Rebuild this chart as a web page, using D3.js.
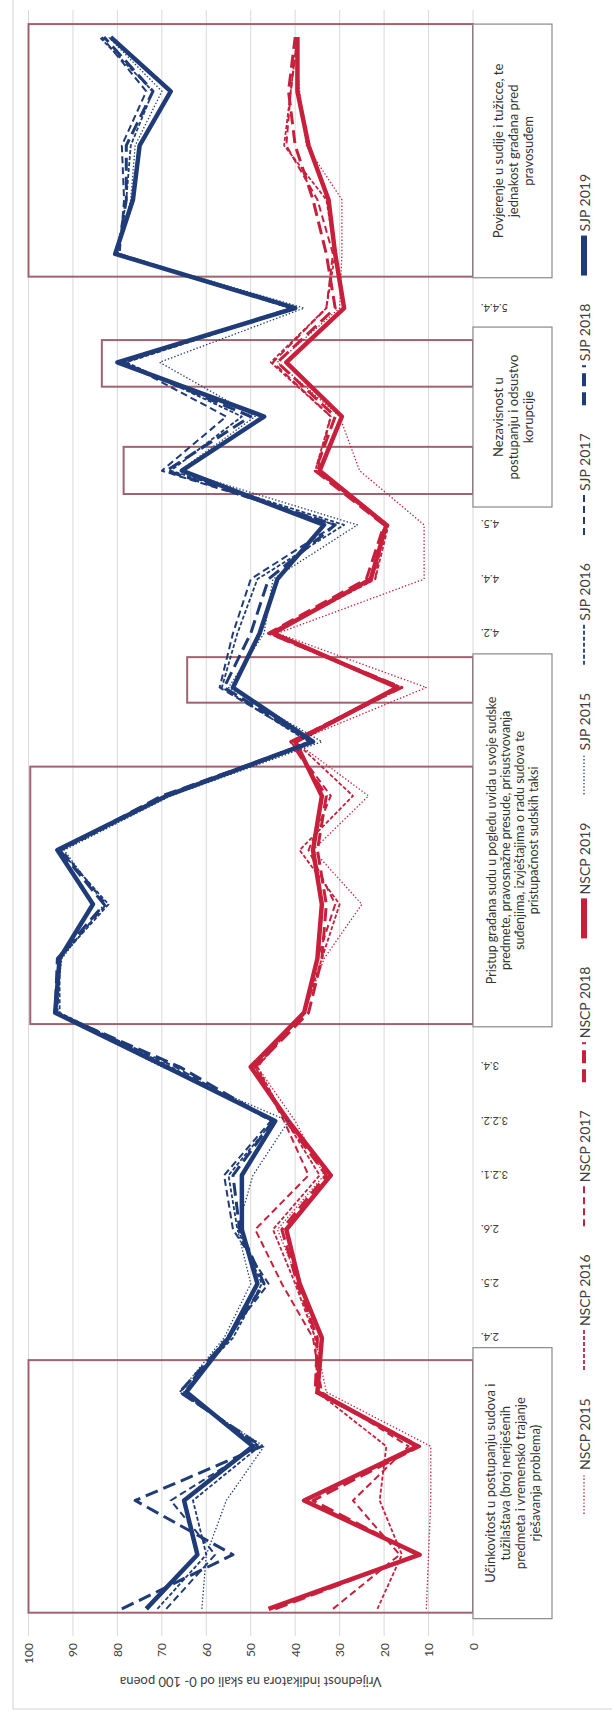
<!DOCTYPE html>
<html><head><meta charset="utf-8">
<script src="https://cdn.jsdelivr.net/npm/d3@7"></script>
<style>body{margin:0;background:#fff}svg{display:block}</style>
</head><body>
<script>
// ---- data (category order = original left-to-right; chart is rotated 90° CCW) ----
const categories = ["", "", "", "", "", "2.4.", "2.5.", "2.6.", "3.2.1.", "3.2.2.", "3.4.",
  "", "", "", "", "", "", "", "4.2.", "4.4.", "4.5.", "", "", "", "5.4.4.", "", "", "", "", ""];
const nscp2015 = [10.5, 10, 9.5, 9.5, 33, 35.5, 39, 44, 33.5, 40, 48.5, 38, 33.5, 25, 36, 23.5, 40, 10.5, 44, 11, 11, 25.5, 30, 44, 30, 29.5, 29.5, 37.5, 39, 40];
const nscp2016 = [21.5, 16, 21, 19.5, 35, 35.5, 40, 45, 34.5, 42, 48.5, 38, 34, 30, 39, 27, 40, 16, 45, 22, 19, 35.5, 32, 45.5, 33, 31, 33, 42.5, 41, 39.5];
const nscp2017 = [31.5, 16.5, 27, 14.5, 34, 36, 43, 49, 37, 42.5, 49, 38, 35, 31, 37, 32, 41, 17, 46, 22, 20, 35, 32, 45, 33, 31.5, 35, 42, 41, 39.5];
const nscp2018 = [44.5, 12.5, 36, 12, 35.5, 35, 39.5, 43, 33, 42, 49, 37, 34, 33, 35, 33, 41, 16, 46, 24, 20, 35.5, 31, 44, 31, 33, 36, 40, 41.5, 40];
const nscp2019 = [46, 12, 38, 12.5, 35, 34, 39, 42, 32, 41.5, 50, 38, 35, 34, 36, 34, 40, 17, 45, 23, 19.5, 34.5, 29.5, 42, 29, 31, 32.5, 37, 39.5, 39.5];
const sjp2015 = [61, 60, 55.5, 47, 66, 56, 50, 53, 49.5, 41.5, 70, 94, 92.5, 83, 92, 68, 34, 55, 47, 45, 26, 66, 49, 70.5, 38, 80, 77, 76, 70, 82];
const sjp2016 = [71, 60, 63, 48, 66, 54, 47.5, 53, 55, 45, 68, 93, 93, 82, 93, 69, 37, 56.5, 53, 48.5, 29, 68, 52, 78, 40, 80, 78, 77, 72, 84];
const sjp2017 = [69, 58, 68, 48.5, 65, 55.5, 46, 54, 56, 45.5, 67, 93.5, 93, 82.5, 92.5, 68.5, 36.5, 57, 54, 50, 31, 70, 55.5, 78.5, 41, 79.5, 78.5, 79, 73.5, 83.5];
const sjp2018 = [79, 54, 76, 47.5, 66, 55, 47, 52.5, 54, 45, 66, 94, 93.5, 83, 93, 70, 36, 56, 50, 46, 31, 69, 50, 79, 40.5, 80, 78, 78, 72, 83];
const sjp2019 = [73.5, 62, 65, 49.5, 64.5, 55, 48.5, 52, 52, 44.5, 69, 94, 93, 85.5, 93.5, 69, 36, 54, 48, 44, 33.5, 65.5, 47, 80, 40, 80.5, 76.5, 75, 68, 81.5];
const seriesNames = ["NSCP 2015", "NSCP 2016", "NSCP 2017", "NSCP 2018", "NSCP 2019", "SJP 2015", "SJP 2016", "SJP 2017", "SJP 2018", "SJP 2019"];
const valueTicks = [0, 10, 20, 30, 40, 50, 60, 70, 80, 90, 100];
const axisTitle = "Vrijednost indikatora na skali od 0- 100 poena";
// group frames (in category units) and their heights (value units)
const frameFrom = [-0.07, 10.79, 16.72, 20.57, 22.55, 24.58];
const frameTo   = [4.59, 15.54, 17.56, 21.44, 23.41, 29.24];
const frameTop  = [100, 99.6, 64.3, 78.6, 83.5, 100];
// group text boxes
const boxFrom = [-0.18, 10.74, 20.33, 24.56];
const boxTo   = [4.82, 17.62, 23.65, 29.24];
const boxLines = [
  ["Učinkovitost u postupanju sudova i", "tužilaštava (broj neriješenih", "predmeta i vremensko trajanje", "rješavanja problema)"],
  ["Pristup građana sudu u pogledu uvida u svoje sudske", "predmete, pravosnažne presude, prisustvovanja", "suđenjima, izvještajima o radu sudova te", "pristupačnost sudskih taksi"],
  ["Nezavisnost u", "postupanju i odsustvo", "korupcije"],
  ["Povjerenje u sudije i tužicce, te", "jednakost građana pred", "pravosuđem"]
];

// ---- layout ----
const W = 612, H = 1724;
const RED = "#c8203c", NAVY = "#1f3c78";
const styles = [
  {w: 1.3, d: "1.4,2"}, {w: 1.8, d: "4,2"}, {w: 2, d: "7,4"}, {w: 3, d: "13,6"}, {w: 4.5, d: null}
];
const seriesData = [nscp2015, nscp2016, nscp2017, nscp2018, nscp2019, sjp2015, sjp2016, sjp2017, sjp2018, sjp2019];
const FONT = "Lato, 'Open Sans', sans-serif";

const svg = d3.select("body").append("svg").attr("width", W).attr("height", H);
svg.append("rect").attr("width", W).attr("height", H).attr("fill", "#fff");
// original (unrotated) chart frame: x along 0..H, y along 0..W
const g = svg.append("g").attr("transform", `translate(0,${H}) rotate(-90)`).style("font-family", FONT);

const x = d3.scalePoint().domain(d3.range(categories.length)).range([88, 1714]).padding(0.5);
const step = x.step();
const xc = v => x(0) + step * v; // continuous category position
const y = d3.scaleLinear().domain([0, 100]).range([473, 28.5]);
const boxTopY = 473, boxH = 79;

// outer chart border
g.append("rect").attr("x", 15).attr("y", 13).attr("width", H).attr("height", W)
  .attr("fill", "none").attr("stroke", "#d9d9d9").attr("stroke-width", 1.2);

// gridlines
g.append("g").selectAll("line").data(valueTicks).join("line")
  .attr("x1", 88).attr("x2", 1714).attr("y1", d => y(d)).attr("y2", d => y(d))
  .attr("stroke", "#d9d9d9").attr("stroke-width", 1);

// value tick labels
g.append("g").selectAll("text").data(valueTicks).join("text")
  .attr("x", 81).attr("y", d => y(d)).attr("text-anchor", "end").attr("dominant-baseline", "central")
  .attr("font-size", 12).attr("fill", "#404040").text(d => d);

// axis title
g.append("text").attr("transform", `translate(42,${(y(0) + y(100)) / 2}) rotate(-90)`)
  .attr("text-anchor", "middle").attr("dominant-baseline", "central")
  .attr("font-size", 13).attr("fill", "#404040").text(axisTitle);

// category labels
g.append("g").selectAll("text").data(categories.map((c, i) => ({c, i})).filter(d => d.c)).join("text")
  .attr("transform", d => `translate(${x(d.i)},481) rotate(-90)`)
  .attr("text-anchor", "end").attr("dominant-baseline", "central")
  .attr("font-size", 11).attr("fill", "#404040").text(d => d.c);

// group frames
g.append("g").selectAll("rect").data(frameFrom.map((f, i) => i)).join("rect")
  .attr("x", i => xc(frameFrom[i])).attr("width", i => xc(frameTo[i]) - xc(frameFrom[i]))
  .attr("y", i => y(frameTop[i])).attr("height", i => y(0) - y(frameTop[i]))
  .attr("fill", "none").attr("stroke", "#95535f").attr("stroke-width", 2).attr("stroke-opacity", 0.9);

// series lines
const line = d3.line().x((d, i) => x(i)).y(d => y(d));
seriesData.forEach((data, k) => {
  const st = styles[k % 5];
  g.append("path").datum(data).attr("d", line)
    .attr("fill", "none").attr("stroke", k < 5 ? RED : NAVY)
    .attr("stroke-width", st.w).attr("stroke-dasharray", st.d)
    .attr("stroke-linejoin", "round");
});

// text boxes
boxLines.forEach((lines, i) => {
  const x0 = xc(boxFrom[i]), x1 = xc(boxTo[i]);
  g.append("rect").attr("x", x0).attr("y", boxTopY).attr("width", x1 - x0).attr("height", boxH)
    .attr("fill", "#fff").attr("stroke", "#8a8a8a").attr("stroke-width", 1.2);
  const lh = i === 1 ? 14 : 15;
  const cy = boxTopY + boxH / 2 - (lines.length - 1) * lh / 2;
  const t = g.append("text").attr("text-anchor", "middle").attr("font-size", i === 1 ? 12.5 : 13)
    .attr("fill", "#333");
  lines.forEach((ln, j) => {
    t.append("tspan").attr("x", (x0 + x1) / 2).attr("y", cy + j * lh)
      .attr("dominant-baseline", "central").text(ln);
  });
});

// legend
const legY = 584, symLen = 40;
const lg = g.append("g");
const texts = seriesNames.map(n => lg.append("text").attr("font-size", 14).attr("fill", "#404040")
  .attr("dominant-baseline", "central").attr("y", legY).text(n));
const widths = texts.map(t => t.node().getComputedTextLength());
const legStart = 210, legEnd = 1550;
const gap = (legEnd - legStart - d3.sum(widths) - seriesNames.length * (symLen + 4)) / (seriesNames.length - 1);
let cx = legStart;
seriesNames.forEach((n, k) => {
  const st = styles[k % 5];
  lg.append("line").attr("x1", cx).attr("x2", cx + symLen).attr("y1", legY).attr("y2", legY)
    .attr("stroke", k < 5 ? RED : NAVY).attr("stroke-width", k % 5 === 4 ? 6 : st.w + (k % 5 === 3 ? 1 : 0))
    .attr("stroke-dasharray", st.d);
  texts[k].attr("x", cx + symLen + 4);
  cx += symLen + 4 + widths[k] + gap;
});
</script>
</body></html>
